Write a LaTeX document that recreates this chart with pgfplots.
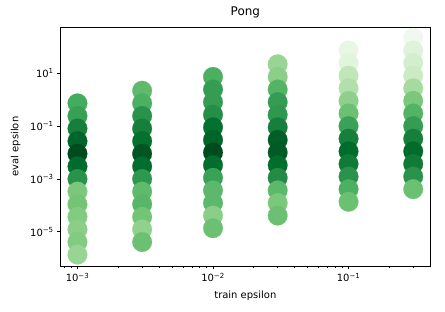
\documentclass[border=0pt]{standalone}
\usepackage{fontspec}
\setmainfont{DejaVu Sans}
\usepackage{pgfplots}
\pgfplotsset{compat=1.18}
\usepackage{pgfplotstable}

\pgfplotstableread{
x y c
0.001 0.729 0.62
0.001 0.243 0.67
0.001 0.081 0.80
0.001 0.027 0.90
0.001 0.009 0.98
0.001 0.003 0.88
0.001 0.001 0.72
0.001 3.333e-4 0.48
0.001 1.111e-4 0.50
0.001 3.704e-5 0.46
0.001 1.235e-5 0.44
0.001 4.115e-6 0.46
0.001 1.372e-6 0.40
0.003 2.187 0.55
0.003 0.729 0.60
0.003 0.243 0.72
0.003 0.081 0.80
0.003 0.027 0.86
0.003 0.009 0.95
0.003 0.003 0.87
0.003 0.001 0.70
0.003 3.333e-4 0.55
0.003 1.111e-4 0.57
0.003 3.704e-5 0.50
0.003 1.235e-5 0.42
0.003 4.115e-6 0.52
0.01 7.29 0.60
0.01 2.43 0.68
0.01 0.81 0.68
0.01 0.27 0.74
0.01 0.09 0.86
0.01 0.03 0.90
0.01 0.01 0.98
0.01 3.333e-3 0.87
0.01 1.111e-3 0.66
0.01 3.704e-4 0.56
0.01 1.235e-4 0.56
0.01 4.115e-5 0.44
0.01 1.372e-5 0.52
0.03 21.87 0.40
0.03 7.29 0.44
0.03 2.43 0.58
0.03 0.81 0.68
0.03 0.27 0.70
0.03 0.09 0.80
0.03 0.03 0.92
0.03 0.01 0.93
0.03 3.333e-3 0.87
0.03 1.111e-3 0.75
0.03 3.704e-4 0.56
0.03 1.235e-4 0.48
0.03 4.115e-5 0.52
0.1 72.9 0.10
0.1 24.3 0.14
0.1 8.1 0.27
0.1 2.7 0.32
0.1 0.9 0.43
0.1 0.3 0.52
0.1 0.1 0.66
0.1 0.03333 0.80
0.1 0.01111 0.88
0.1 3.704e-3 0.82
0.1 1.235e-3 0.72
0.1 4.115e-4 0.60
0.1 1.372e-4 0.52
0.3 218.7 0.05
0.3 72.9 0.15
0.3 24.3 0.20
0.3 8.1 0.23
0.3 2.7 0.36
0.3 0.9 0.48
0.3 0.3 0.58
0.3 0.1 0.68
0.3 0.03333 0.80
0.3 0.01111 0.88
0.3 3.704e-3 0.82
0.3 1.235e-3 0.72
0.3 4.115e-4 0.52
}\data

\begin{document}
\begin{tikzpicture}
\begin{axis}[
  name=ax,
  scale only axis,
  width=369.3bp, height=239bp,
  xmode=log, ymode=log,
  xmin=7.52e-4, xmax=0.399,
  ymin=5.1e-7, ymax=562,
  colormap={greens}{rgb255=(247,252,245) rgb255=(229,245,224) rgb255=(199,233,192) rgb255=(161,217,155) rgb255=(116,196,118) rgb255=(65,171,93) rgb255=(35,139,69) rgb255=(0,109,44) rgb255=(0,68,27)},
  point meta min=0, point meta max=1,
  xtick={1e-3,1e-2,1e-1},
  xticklabels={10\textsuperscript{−3},10\textsuperscript{−2},10\textsuperscript{−1}},
  minor xtick={8e-4,9e-4,2e-3,3e-3,4e-3,5e-3,6e-3,7e-3,8e-3,9e-3,2e-2,3e-2,4e-2,5e-2,6e-2,7e-2,8e-2,9e-2,2e-1,3e-1},
  ytick={10,0.1,1e-3,1e-5},
  yticklabels={10\textsuperscript{1},10\textsuperscript{−1},10\textsuperscript{−3},10\textsuperscript{−5}},
  minor y tick style={draw=none},
  tick align=outside,
  xtick pos=bottom, ytick pos=left,
  major tick length=3.5bp, minor tick length=2bp,
  tick style={black, line width=0.8bp},
  axis line style={line width=0.8bp},
  ticklabel style={font=\fontsize{10}{12}\selectfont},
  title={Pong},
  title style={font=\fontsize{12}{14}\selectfont, at={(axis description cs:0.5,1)}, anchor=base, yshift=6bp},
  xlabel={train epsilon},
  xlabel style={font=\fontsize{10}{12}\selectfont, at={(axis description cs:0.5,0)}, anchor=north, yshift=-25bp, inner sep=0pt},
  ylabel={eval epsilon},
  ylabel style={font=\fontsize{10}{12}\selectfont, at={(axis description cs:0,0.5)}, anchor=south, yshift=40bp, inner sep=0pt},
]
\addplot[scatter, only marks, scatter src=explicit, mark=*, mark size=9.8bp,
  mark options={line width=0.2bp},
  scatter/use mapped color={draw=mapped color, fill=mapped color}]
  table[x=x, y=y, meta=c] {\data};
\end{axis}
\pgfresetboundingbox
\path ([xshift=-60.7bp,yshift=-46bp]ax.south west) rectangle ([xshift=15bp,yshift=27bp]ax.north east);
\end{tikzpicture}
\end{document}
